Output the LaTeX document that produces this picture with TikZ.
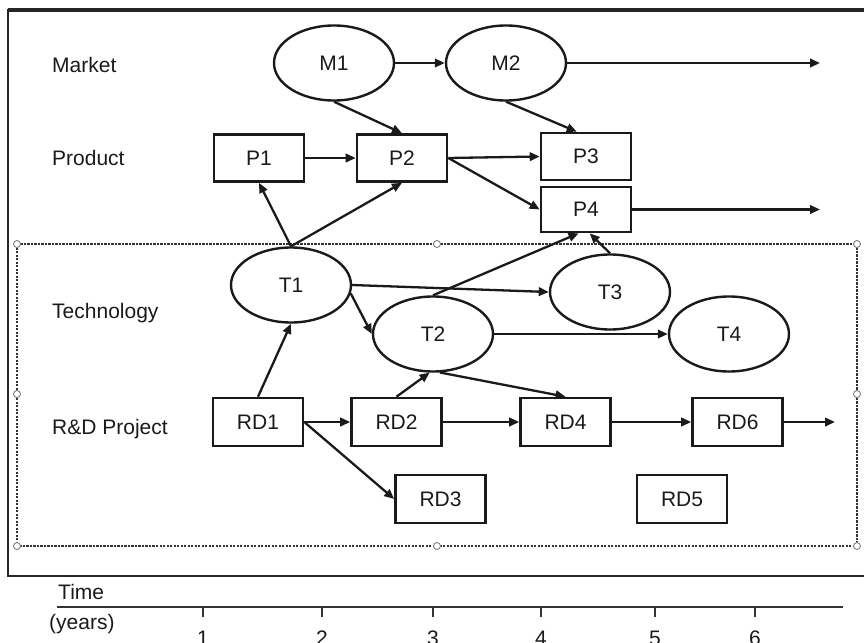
\documentclass[tikz,border=0pt]{standalone}
\usepackage{fontspec}
\setmainfont{Liberation Sans}
\usetikzlibrary{shapes.geometric,arrows.meta,calc}
\definecolor{ink}{HTML}{1A1A1A}
\definecolor{framegray}{HTML}{262626}
\definecolor{dotgray}{HTML}{333333}
\begin{document}
\begin{tikzpicture}[x=1pt,y=-1pt,
  every node/.style={font=\fontsize{21}{25}\selectfont, text=ink},
  rowlabel/.style={anchor=base west, inner sep=0},
  oval/.style={ellipse, draw=ink, line width=2.4pt, minimum width=120pt, minimum height=75pt, inner sep=0},
  box/.style={rectangle, draw=ink, line width=2.6pt, minimum width=90pt, minimum height=47pt, inner sep=0},
  rdbox/.style={box, minimum height=48pt},
  link/.style={draw=ink, line width=2.3pt, -{Triangle[length=10pt,width=8.5pt]}},
  handle/.style={circle, draw=gray, fill=white, line width=0.9pt, minimum size=7pt, inner sep=0},
  ticklabel/.style={anchor=base, inner sep=0}]
\useasboundingbox (0,0) rectangle (864,642);

% outer frame (open on the right)
\draw[framegray, line width=3.8pt] (8,10) -- (864,10);
\draw[framegray, line width=2.4pt] (8,9) -- (8,576) -- (864,576);

% dotted selection box around technology and R&D rows
\draw[dotgray, line width=2pt, dash pattern=on 2.2pt off 1.3pt] (17,244) rectangle (857,546);
\foreach \hx/\hy in {17/244, 437/244, 857/244, 17/394, 857/394, 17/546, 437/546, 857/546}
  \node[handle] at (\hx,\hy) {};

% row labels
\node[rowlabel] (lm) at (52,72) {Market};
\node[rowlabel] (lp) at (52,165) {Product};
\node[rowlabel] (lt) at (52,318) {Technology};
\node[rowlabel] (lr) at (52,434) {R\&D Project};

% market
\node[oval] (M1) at (334,63) {M1};
\node[oval] (M2) at (506,63) {M2};
% products
\node[box] (P1) at (259,158) {P1};
\node[box] (P2) at (402,158) {P2};
\node[box] (P3) at (586,156.5) {P3};
\node[box, minimum height=45pt] (P4) at (586,209.5) {P4};
% technologies
\node[oval] (T1) at (291,285) {T1};
\node[oval] (T2) at (433,334) {T2};
\node[oval] (T3) at (610,292) {T3};
\node[oval] (T4) at (729,334) {T4};
% R&D projects
\node[rdbox] (RD1) at (258,422) {RD1};
\node[rdbox] (RD2) at (396.5,422) {RD2};
\node[rdbox] (RD4) at (565.5,422) {RD4};
\node[rdbox] (RD6) at (737.5,422) {RD6};
\node[rdbox] (RD3) at (440.5,499) {RD3};
\node[rdbox] (RD5) at (682,499) {RD5};

% open ends of continuing lines
\coordinate (mEnd) at (820,63);
\coordinate (pEnd) at (820,209.5);
\coordinate (rEnd) at (835,422);

% market links
\draw[link] (M1.east) -- (M2.west);
\draw[link] (M2.east) -- (mEnd);
\draw[link] (M1.south) -- (P2.north);
\draw[link] (M2.south) -- ($(P3.north west)!0.4!(P3.north east)$);

% product links
\draw[link] (P1.east) -- (P2.west);
\draw[link] (P2.east) -- (P3.west);
\draw[link] (P2.east) -- (P4.west);
\draw[link] (P4.east) -- (pEnd);

% technology links
\draw[link] (T1.north) -- (P1.south);
\draw[link] (T1.north) -- (P2.south);
\draw[link] (T1.east) -- (T3.west);
\draw[link] (T1.-8) -- (T2.west);
\draw[link] (T2.north) -- ($(P4.south west)!0.42!(P4.south east)$);
\draw[link] (T3.north) -- ($(P4.south west)!0.54!(P4.south east)$);
\draw[link] (T2.east) -- (T4.west);

% R&D links
\draw[link] (RD1.north) -- (T1.south);
\draw[link] (RD1.east) -- (RD2.west);
\draw[link] (RD1.east) -- (RD3.west);
\draw[link] (RD2.north) -- (T2.265);
\draw[link] (T2.280) -- (RD4.north);
\draw[link] (RD2.east) -- (RD4.west);
\draw[link] (RD4.east) -- (RD6.west);
\draw[link] (RD6.east) -- (rEnd);

% time axis
\node[rowlabel] (tlab) at (58,599) {Time};
\node[rowlabel] (ylab) at (49,629) {(years)};
\draw[dotgray, line width=1.7pt] (57,607) -- (843,607);
\foreach \tx/\tn in {203/1, 322/2, 433/3, 541/4, 655/5, 755/6} {
  \draw[dotgray, line width=1.7pt] (\tx,607) -- (\tx,617);
  \node[ticklabel] at (\tx,645) {\tn};
}
\end{tikzpicture}
\end{document}
